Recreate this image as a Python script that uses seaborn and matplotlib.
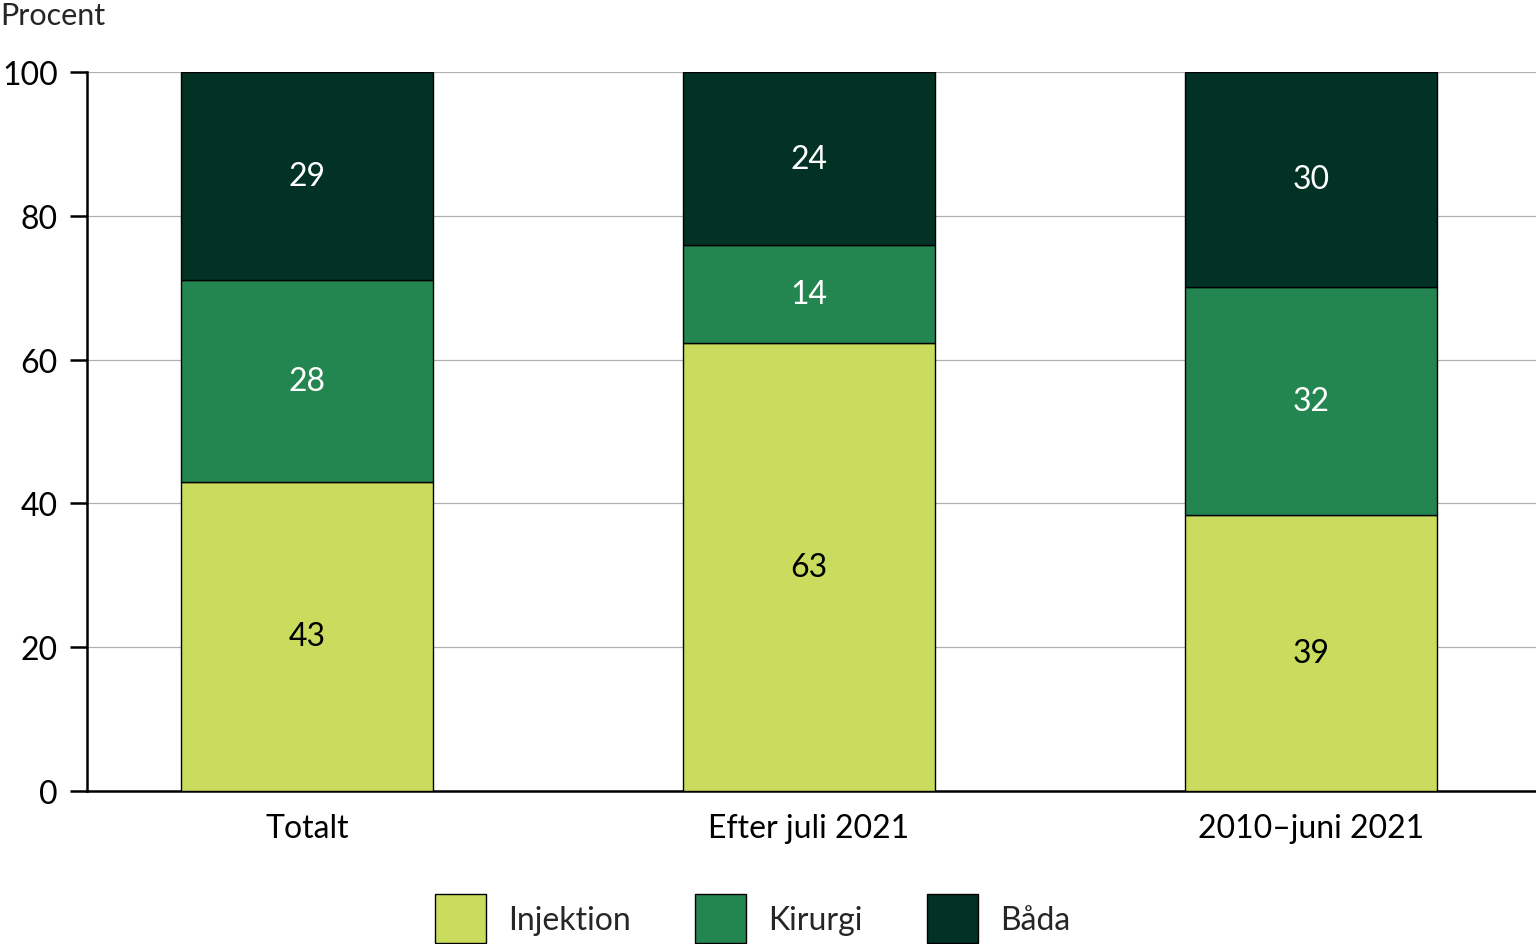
import matplotlib
matplotlib.use("Agg")
import matplotlib.pyplot as plt
import seaborn as sns
import pandas as pd
from matplotlib.patches import Patch

# values (percent)
categories = ['Totalt', 'Efter juli 2021', '2010–juni 2021']
injektion = [43.0, 62.3, 38.4]
kirurgi = [28.1, 13.6, 31.7]
bada = [28.9, 24.1, 29.9]

# rounded numbers printed in the bars
injektion_txt = [43, 63, 39]
kirurgi_txt = [28, 14, 32]
bada_txt = [29, 24, 30]

series = ['Injektion', 'Kirurgi', 'Båda']
colors = ['#c9dc5e', '#238650', '#013224']
text_colors = ['black', 'white', 'white']

sns.set_style('white')
plt.rcParams['font.family'] = ['Lato', 'DejaVu Sans']

df = pd.DataFrame({'kategori': categories, 'Injektion': injektion,
                   'Kirurgi': kirurgi, 'Båda': bada})

fig = plt.figure(figsize=(15.36, 9.45), dpi=100)
ax = fig.add_axes([0.0566, 0.1619, 0.9434, 0.7609])

bottom = [0.0, 0.0, 0.0]
texts = [injektion_txt, kirurgi_txt, bada_txt]
for name, col, tcol, txt in zip(series, colors, text_colors, texts):
    sns.barplot(data=df, x='kategori', y=name, color=col, bottom=bottom,
                width=0.502, edgecolor='black', linewidth=1.0,
                saturation=1, ax=ax, zorder=3)
    for i, v in enumerate(df[name]):
        ax.text(i, bottom[i] + v / 2, str(txt[i]), ha='center', va='center',
                color=tcol, fontsize=23, zorder=4)
    bottom = [b + v for b, v in zip(bottom, df[name])]

ax.set_xlim(-0.438, 2.448)
ax.set_ylim(0, 100)
ax.set_yticks([0, 20, 40, 60, 80, 100])
ax.yaxis.grid(True, color='#b0b0b0', linewidth=0.9, zorder=0)
ax.set_axisbelow(True)
ax.set_xlabel('')
ax.set_ylabel('')

for s in ['top', 'right']:
    ax.spines[s].set_visible(False)
for s in ['left', 'bottom']:
    ax.spines[s].set_color('black')
    ax.spines[s].set_linewidth(1.8)

ax.tick_params(axis='y', length=12, width=1.8, pad=9, labelsize=23,
               colors='black', left=True)
ax.tick_params(axis='x', length=0, pad=16, labelsize=23, colors='black')

fig.text(0.0, 1 - 16 / 945, 'Procent', fontsize=22, va='center', ha='left')

handles = [Patch(facecolor=c, edgecolor='black', linewidth=1.0) for c in colors]
fig.legend(handles, series, loc='center', bbox_to_anchor=(0.49, 0.027),
           ncol=3, frameon=False, fontsize=23, handlelength=1.6,
           handleheight=2.0, handletextpad=0.7, columnspacing=2.0)

fig.savefig('out.png', dpi=100)
